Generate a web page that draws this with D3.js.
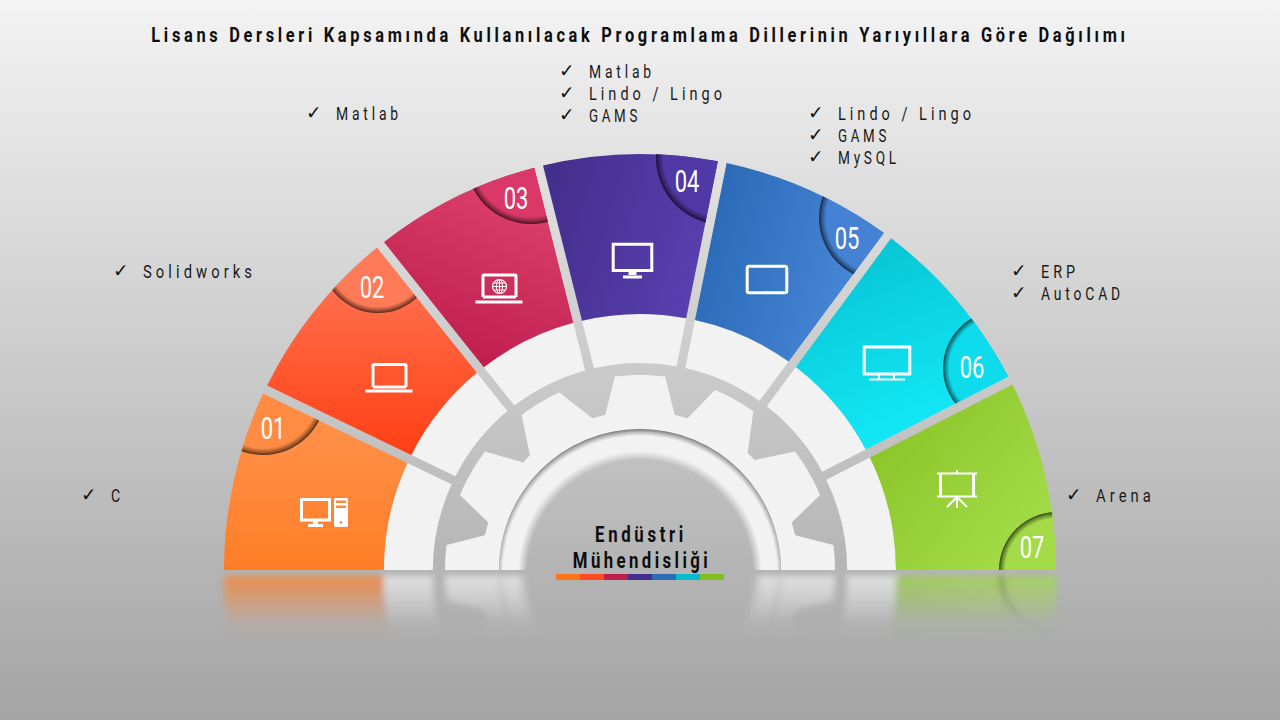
<!DOCTYPE html>
<html>
<head>
<meta charset="utf-8">
<script src="https://cdn.jsdelivr.net/npm/d3@7"></script>
<style>
html, body { margin: 0; padding: 0; background: #ccc; }
svg { display: block; }
text { font-family: Roboto, sans-serif; }
</style>
</head>
<body>
<div id="chart"></div>
<script>
var chartTitle = 'Lisans Dersleri Kapsamında Kullanılacak Programlama Dillerinin Yarıyıllara Göre Dağılımı';
var centerLines = ['Endüstri', 'Mühendisliği'];
var semesters = ['01', '02', '03', '04', '05', '06', '07'];
// sweep of each segment in degrees
var shares = [25.7, 25.7, 24.5, 25.5, 25.1, 26.4, 27.1];
var languages = [
    ['C'],
    ['Solidworks'],
    ['Matlab'],
    ['Matlab', 'Lindo / Lingo', 'GAMS'],
    ['Lindo / Lingo', 'GAMS', 'MySQL'],
    ['ERP', 'AutoCAD'],
    ['Arena']
];

// look of the picture, kept apart from the values
var width = 1280, height = 720, cx = 640, cy = 570;
var gapWidth = 9, rOuter = 416, rColor = 256, rRing = 207;
var gearTip = 195, gearRoot = 159, rHub = 141, rHubIn = 112;
var squeeze = 0.78, labelSpacing = 5.1;
var toRad = Math.PI / 180;

var stripColors = ['#ff7518', '#ff4b1f', '#bf1f4f', '#452f8e', '#2b6cb8', '#06bccb', '#82bd22'];
var gradients = [
    {x1: 0, y1: 0, x2: 0, y2: 1, from: '#ff9450', to: '#ff7518'},
    {x1: 0, y1: 0, x2: 0, y2: 1, from: '#ff7a5a', to: '#ff3f14'},
    {x1: 1, y1: 0, x2: 0.6, y2: 1, from: '#e34872', to: '#c02050'},
    {x1: 0, y1: 0.3, x2: 1, y2: 0.6, from: '#432f8c', to: '#5a40b2'},
    {x1: 0, y1: 0.3, x2: 1, y2: 0.6, from: '#2868b4', to: '#4d8bdc'},
    {x1: 0.2, y1: 0, x2: 0.6, y2: 1, from: '#06c2d2', to: '#14ecfa'},
    {x1: 0.1, y1: 0.1, x2: 0.8, y2: 0.9, from: '#8ac428', to: '#a8e04e'}
];
var badgeFill = ['#ff8c42', '#ff7a56', '#da3868', '#5038a6', '#4682d4', '#0edcec', '#a2da48'];
var badgeAt = [[263, 392, 63], [378, 256, 57], [531, 159, 65], [723, 157.5, 67], [882, 218, 63], [1000, 368, 57], [1057, 570, 58]];
var numberAt = [[273, 428], [372, 287], [516, 198], [687, 181], [847, 238], [972, 367], [1032, 547]];
var listAt = [[82, 495], [114, 271], [307, 113], [560, 71], [809, 113], [1012, 271], [1067, 495]];
var iconAt = [[300, 498], [365, 363], [475, 274], [612, 243], [746, 265], [863, 345], [937, 470]];
var labelWidth = {
    'C': 9, 'Solidworks': 109, 'Matlab': 62, 'Lindo / Lingo': 133, 'GAMS': 48,
    'MySQL': 58, 'ERP': 34, 'AutoCAD': 79, 'Arena': 55
};

var svg = d3.select('#chart').append('svg')
    .attr('width', width)
    .attr('height', height);
var defs = svg.append('defs');

var bg = defs.append('linearGradient').attr('id', 'bg')
    .attr('x1', 0).attr('y1', 0).attr('x2', 0).attr('y2', 1);
bg.append('stop').attr('offset', 0).attr('stop-color', '#f3f3f3');
bg.append('stop').attr('offset', 1).attr('stop-color', '#a4a4a4');

gradients.forEach(function(g, i) {
    var lg = defs.append('linearGradient').attr('id', 'seg' + i)
        .attr('x1', g.x1).attr('y1', g.y1).attr('x2', g.x2).attr('y2', g.y2);
    lg.append('stop').attr('offset', 0).attr('stop-color', g.from);
    lg.append('stop').attr('offset', 1).attr('stop-color', g.to);
});

// badge shadow sits on the inside of the circle edge
var shade = defs.append('radialGradient').attr('id', 'badgeShade');
shade.append('stop').attr('offset', 0.89).attr('stop-color', '#000').attr('stop-opacity', 0);
shade.append('stop').attr('offset', 0.96).attr('stop-color', '#000').attr('stop-opacity', 0.38);
shade.append('stop').attr('offset', 1).attr('stop-color', '#000').attr('stop-opacity', 0.68);

// centre sits a bit low so the hub shadow is heavier on top than at the sides
var hubR = rHub + 3;
var hub = defs.append('radialGradient').attr('id', 'hubRing')
    .attr('gradientUnits', 'userSpaceOnUse')
    .attr('cx', 0).attr('cy', 3).attr('r', hubR);
[[rHubIn + 1, '#f2f2f2', 0], [rHubIn + 10, '#f2f2f2', 1], [hubR - 7, '#f2f2f2', 1], [hubR - 3, '#b8b8b8', 1], [hubR, '#757575', 1]]
    .forEach(function(s) {
        hub.append('stop').attr('offset', s[0] / hubR)
            .attr('stop-color', s[1]).attr('stop-opacity', s[2]);
    });

var fade = defs.append('linearGradient').attr('id', 'fade')
    .attr('gradientUnits', 'userSpaceOnUse')
    .attr('x1', 0).attr('y1', 574).attr('x2', 0).attr('y2', 640);
fade.append('stop').attr('offset', 0).attr('stop-color', '#fff').attr('stop-opacity', 0.75);
fade.append('stop').attr('offset', 0.45).attr('stop-color', '#fff').attr('stop-opacity', 0.35);
fade.append('stop').attr('offset', 0.7).attr('stop-color', '#fff').attr('stop-opacity', 0.1);
fade.append('stop').attr('offset', 1).attr('stop-color', '#fff').attr('stop-opacity', 0);
defs.append('mask').attr('id', 'fadeMask').attr('maskUnits', 'userSpaceOnUse')
    .attr('x', 0).attr('y', 0).attr('width', width).attr('height', height)
    .append('rect').attr('width', width).attr('height', height).attr('fill', 'url(#fade)');

defs.append('filter').attr('id', 'soft')
    .attr('filterUnits', 'userSpaceOnUse')
    .attr('x', 0).attr('y', 0).attr('width', width).attr('height', height)
    .append('feGaussianBlur').attr('stdDeviation', 3);

defs.append('clipPath').attr('id', 'aboveFloor')
    .append('rect').attr('width', width).attr('height', cy);

svg.append('rect').attr('width', width).attr('height', height).attr('fill', 'url(#bg)');

var pie = d3.pie().sort(null).startAngle(-90 * toRad).endAngle(90 * toRad);
var slices = pie(shares).map(function(d, i) {
    // the two ends run past the floor line, the clip cuts them flat
    return {
        semester: semesters[i],
        startAngle: i === 0 ? d.startAngle - 10 * toRad : d.startAngle,
        endAngle: i === shares.length - 1 ? d.endAngle + 10 * toRad : d.endAngle
    };
});

var arcOf = function(r0, r1) {
    return d3.arc().innerRadius(r0).outerRadius(r1)
        .padAngle(gapWidth / rOuter).padRadius(rOuter);
};

var fan = svg.append('g').attr('id', 'fan').attr('clip-path', 'url(#aboveFloor)');
var center = fan.append('g').attr('transform', 'translate(' + cx + ',' + cy + ')');

// gear: teeth every 30 degrees, hole cut with evenodd
var gearPts = [];
d3.range(-120, 121, 30).forEach(function(a) {
    var a0;
    for (a0 = a - 17.4; a0 <= a - 12.6; a0 += 1.2) gearPts.push([a0 * toRad, gearRoot]);
    for (a0 = a - 7.4; a0 <= a + 7.4; a0 += 1.85) gearPts.push([a0 * toRad, gearTip]);
    for (a0 = a + 12.6; a0 <= a + 17.4; a0 += 1.2) gearPts.push([a0 * toRad, gearRoot]);
});
var gearLine = d3.lineRadial().angle(function(d) { return d[0]; }).radius(function(d) { return d[1]; });
var hubCircle = d3.arc().innerRadius(0).outerRadius(rHub).startAngle(0).endAngle(2 * Math.PI)();
center.append('path')
    .attr('d', gearLine(gearPts) + 'Z' + hubCircle)
    .attr('fill', '#f2f2f2')
    .attr('fill-rule', 'evenodd');
center.append('circle').attr('r', rHub).attr('fill', 'url(#hubRing)');

center.selectAll('path.ring').data(slices).enter().append('path')
    .attr('class', 'ring')
    .attr('d', arcOf(rRing, rColor))
    .attr('fill', '#f2f2f2');

center.selectAll('path.segment').data(slices).enter().append('path')
    .attr('class', 'segment')
    .attr('d', arcOf(rColor, rOuter))
    .attr('fill', function(d, i) { return 'url(#seg' + i + ')'; });

// corner badges are circles clipped by their own segment
slices.forEach(function(d, i) {
    defs.append('clipPath').attr('id', 'segClip' + i)
        .append('path')
        .attr('transform', 'translate(' + cx + ',' + cy + ')')
        .attr('d', arcOf(rColor, rOuter)(d));
    var b = fan.append('g').attr('clip-path', 'url(#segClip' + i + ')');
    b.append('circle').attr('cx', badgeAt[i][0]).attr('cy', badgeAt[i][1]).attr('r', badgeAt[i][2])
        .attr('fill', badgeFill[i]);
    b.append('circle').attr('cx', badgeAt[i][0]).attr('cy', badgeAt[i][1]).attr('r', badgeAt[i][2])
        .attr('fill', 'url(#badgeShade)');
});

// floor reflection, a blurred and faded mirror of the fan
var mirror = svg.append('g').attr('mask', 'url(#fadeMask)')
    .append('g').attr('filter', 'url(#soft)');
mirror.append('use').attr('href', '#fan')
    .attr('transform', 'translate(0,' + (2 * cy + 6) + ') scale(1,-1)');

// icons, in local coordinates from the top left of each icon
var iconShapes = [
    [
        ['path', {d: 'M1.5 1.5h28v20.5h-28z'}],
        ['path', {d: 'M15.5 23v3.5', 'stroke-width': 5}],
        ['path', {d: 'M8 27.5h15'}],
        ['rect', {x: 34, y: 0, width: 14, height: 29, rx: 1.5, fill: '#fff', stroke: 'none'}],
        ['rect', {x: 36, y: 2.5, width: 10, height: 2.5, fill: '#ff8a3a', stroke: 'none'}],
        ['rect', {x: 36, y: 7.5, width: 10, height: 2.5, fill: '#ff8a3a', stroke: 'none'}],
        ['circle', {cx: 41, cy: 24.5, r: 1.3, fill: '#ff7c28', stroke: 'none'}]
    ],
    [
        ['path', {d: 'M8 24V2.5q0-1 1-1h31q1 0 1 1V24'}],
        ['path', {d: 'M8 24h33'}],
        ['path', {d: 'M0.5 28h47'}]
    ],
    [
        ['path', {d: 'M8 23V1.5q0-.5 1-.5h31q1 0 1 .5V23'}],
        ['path', {d: 'M8 23h33'}],
        ['path', {d: 'M0.5 28h47'}],
        ['circle', {cx: 24.5, cy: 12.5, r: 7, 'stroke-width': 1.2}],
        ['ellipse', {cx: 24.5, cy: 12.5, rx: 3, ry: 7, 'stroke-width': 1}],
        ['path', {d: 'M17.5 12.5h14M18.5 9h12M18.5 16h12M24.5 5.5v14', 'stroke-width': 1}]
    ],
    [
        ['path', {d: 'M1.2 1.2h38.6v26.2h-38.6z'}],
        ['path', {d: 'M20.5 28v4', 'stroke-width': 8}],
        ['path', {d: 'M11 34h19'}]
    ],
    [
        ['rect', {x: 1.2, y: 1.2, width: 39.6, height: 26.6, rx: 2}],
        ['path', {d: 'M18 27.5h6', 'stroke-width': 1.6}]
    ],
    [
        ['path', {d: 'M1.2 2h45.6v27h-45.6z'}],
        ['path', {d: 'M16 30v4M31 30v4', 'stroke-width': 2}],
        ['path', {d: 'M6 34.5h36', 'stroke-width': 2}]
    ],
    [
        ['path', {d: 'M0 3.5h40M0 26.5h40', 'stroke-width': 2.2}],
        ['path', {d: 'M3.5 3.5v23M36.5 3.5v23'}],
        ['path', {d: 'M20 0v3M20 26v12M20 27l-10 10M20 27l10 10', 'stroke-width': 2}]
    ]
];
iconShapes.forEach(function(shapes, i) {
    var g = svg.append('g')
        .attr('transform', 'translate(' + iconAt[i][0] + ',' + iconAt[i][1] + ')')
        .attr('fill', 'none').attr('stroke', '#fff').attr('stroke-width', 3);
    shapes.forEach(function(s) {
        var el = g.append(s[0]);
        Object.keys(s[1]).forEach(function(k) { el.attr(k, s[1][k]); });
    });
});

var stripX = d3.scaleBand().domain(semesters).range([556, 724]);
svg.selectAll('rect.strip').data(semesters).enter().append('rect')
    .attr('class', 'strip')
    .attr('x', function(d) { return stripX(d); })
    .attr('y', 574)
    .attr('width', stripX.bandwidth())
    .attr('height', 6)
    .attr('fill', function(d, i) { return stripColors[i]; });

// no condensed face is installed, so the text is squeezed sideways
var squeezed = function(x, y) {
    return 'translate(' + x + ',' + y + ') scale(' + squeeze + ',1)';
};

svg.append('text')
    .attr('transform', squeezed(640, 41.5))
    .attr('text-anchor', 'middle')
    .attr('font-size', 21).attr('font-weight', 700)
    .attr('letter-spacing', 4.72)
    .attr('fill', '#0d0d0d')
    .text(chartTitle);

svg.selectAll('text.center').data(centerLines).enter().append('text')
    .attr('class', 'center')
    .attr('transform', function(d, i) { return squeezed(641 + i, 542 + i * 26); })
    .attr('text-anchor', 'middle')
    .attr('font-size', 21.5).attr('font-weight', 700)
    .attr('letter-spacing', function(d, i) { return i ? 4.4 : 4.7; })
    .attr('fill', '#0d0d0d')
    .text(function(d) { return d; });

svg.selectAll('text.number').data(semesters).enter().append('text')
    .attr('class', 'number')
    .attr('transform', function(d, i) {
        return 'translate(' + numberAt[i][0] + ',' + (numberAt[i][1] + 11) + ') scale(0.72,1)';
    })
    .attr('text-anchor', 'middle')
    .attr('font-size', 30.5).attr('font-weight', 400)
    .attr('fill', '#fff')
    .text(function(d) { return d; });

languages.forEach(function(list, i) {
    list.forEach(function(name, j) {
        var y = listAt[i][1] + j * 22;
        svg.append('text')
            .attr('x', listAt[i][0] - 1).attr('y', y + 6)
            .attr('font-size', 18.8)
            .style('font-family', '"DejaVu Sans"')
            .attr('fill', '#111')
            .text('✓');
        svg.append('text')
            .attr('transform', squeezed(listAt[i][0] + 29, y + 6.5))
            .attr('font-size', 18.5)
            .attr('letter-spacing', labelSpacing)
            .attr('textLength', (labelWidth[name] + labelSpacing * squeeze) / squeeze)
            .attr('lengthAdjust', 'spacingAndGlyphs')
            .attr('fill', '#1a1a1a')
            .text(name);
    });
});
</script>
</body>
</html>
